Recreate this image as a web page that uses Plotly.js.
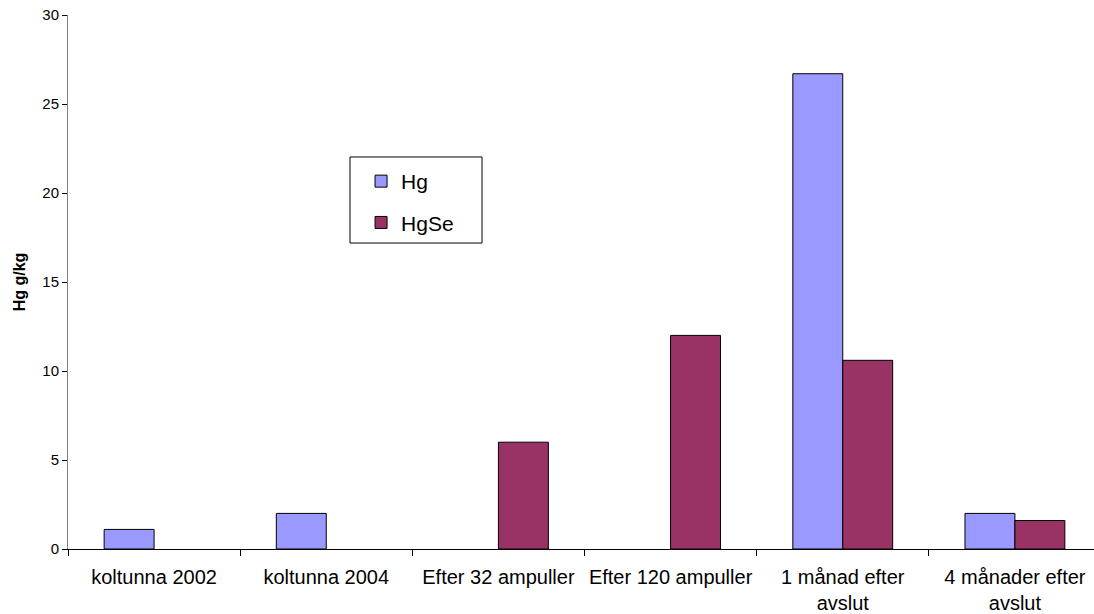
<!DOCTYPE html>
<html>
<head>
<meta charset="utf-8">
<script src="https://cdn.plot.ly/plotly-3.0.1.min.js"></script>
<style>
html,body{margin:0;padding:0;overflow:hidden;background:#fff;}
#chart{width:1110px;height:614px;}
</style>
</head>
<body>
<div id="chart"></div>
<script>
const categories = ["koltunna 2002", "koltunna 2004", "Efter 32 ampuller", "Efter 120 ampuller", "1 månad efter<br>avslut", "4 månader efter<br>avslut"];
const hgValues = [1.1, 2.0, null, null, 26.7, 2.0];
const hgseValues = [null, null, 6.0, 12.0, 10.6, 1.6];
const yTicks = [0, 5, 10, 15, 20, 25, 30];

const font = "Liberation Sans, Arial, sans-serif";

const traces = [
  {type: "bar", name: "Hg", x: categories, y: hgValues, legendgroup: "a",
   marker: {color: "#9999FF", line: {color: "#000", width: 1}}},
  {type: "bar", name: "HgSe", x: categories, y: hgseValues, legendgroup: "b",
   marker: {color: "#993366", line: {color: "#000", width: 1}}}
];

const layout = {
  width: 1110, height: 614,
  margin: {l: 68, r: 9, t: 15, b: 65},
  paper_bgcolor: "#fff", plot_bgcolor: "#fff",
  barmode: "group", bargap: 0.42, bargroupgap: 0,
  showlegend: true,
  legend: {
    x: 0.2837, y: 0.7266, xanchor: "left", yanchor: "top",
    borderwidth: 0, bgcolor: "rgba(0,0,0,0)",
    font: {family: font, size: 21, color: "#000"},
    traceorder: "grouped", tracegroupgap: 11
  },
  shapes: [
    {type: "rect", xref: "paper", yref: "paper", x0: 0.2730, x1: 0.4008, y0: 0.5730, y1: 0.7341,
     line: {color: "#000", width: 1}, fillcolor: "rgba(0,0,0,0)", layer: "above"}
  ],
  xaxis: {
    type: "category", tickson: "boundaries", ticks: "outside", ticklen: 6,
    tickcolor: "#000", showline: true, linecolor: "#000", linewidth: 1,
    showgrid: false, zeroline: false, tickangle: 0,
    tickfont: {family: font, size: 20, color: "#000"},
    ticklabelstandoff: 10
  },
  yaxis: {
    range: [0, 30], tickvals: yTicks, ticks: "outside", ticklen: 5,
    tickcolor: "#000", showline: true, linecolor: "#808080", linewidth: 1,
    showgrid: false, zeroline: false,
    tickfont: {family: font, size: 15, color: "#000"},
    title: {text: "<b>Hg g/kg</b>", font: {family: font, size: 16, color: "#000"}, standoff: 12}
  }
};

Plotly.newPlot("chart", traces, layout, {displayModeBar: false, staticPlot: true});
</script>
</body>
</html>
